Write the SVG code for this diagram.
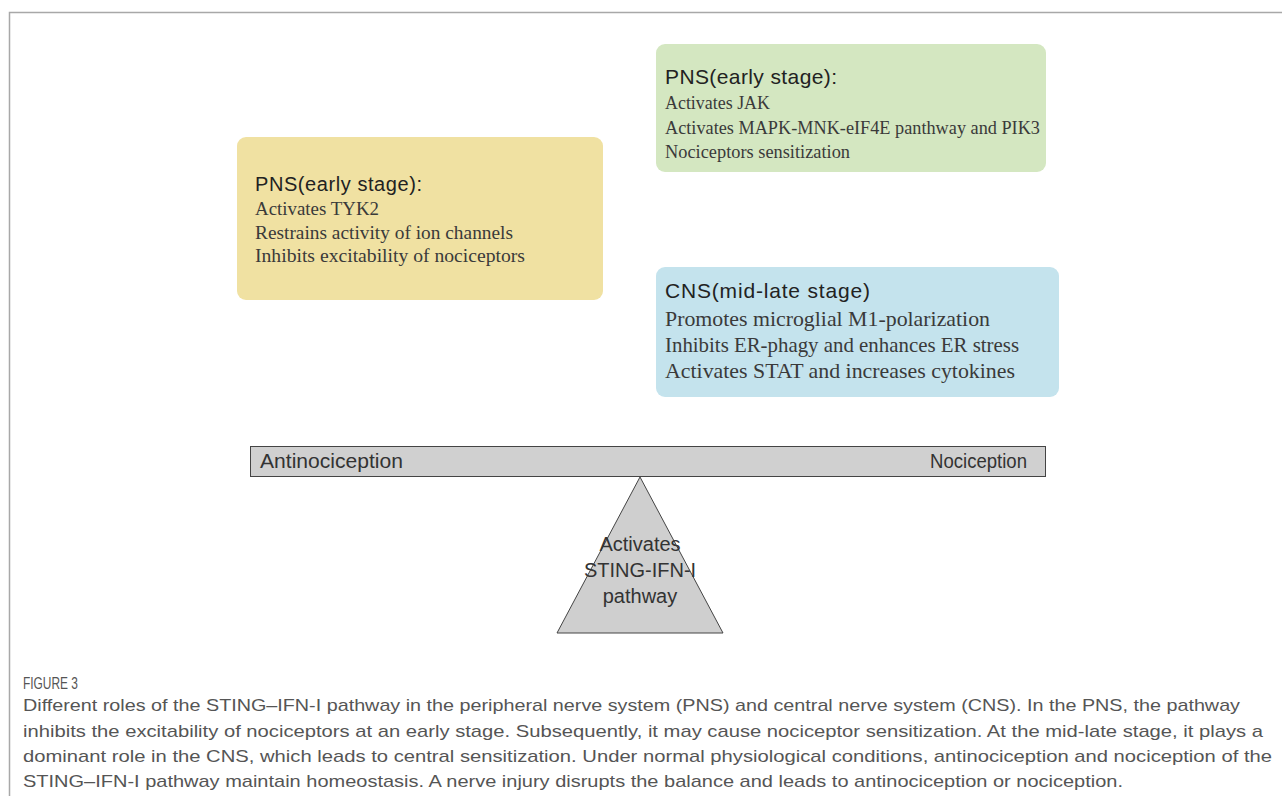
<svg xmlns="http://www.w3.org/2000/svg" width="1282" height="796" viewBox="0 0 1282 796">
<style>
.title{font-family:"Liberation Sans",Arial,sans-serif;fill:#222}
.body{font-family:"Liberation Serif","Times New Roman",serif;fill:#3a3a3a}
.lbl{font-family:"Liberation Sans",Arial,sans-serif;fill:#333;font-size:20px}
.cap{font-family:"Liberation Sans",Arial,sans-serif;fill:#555;font-size:17px}
</style>
<rect width="1282" height="796" fill="#fff"/>
<path d="M9.5 796 V12.5 H1282" fill="none" stroke="#a8a8a8" stroke-width="1.5"/>
<g id="pns-yellow">
<rect x="237" y="137" width="366" height="163" rx="9" fill="#f0e1a2"/>
<text class="title" x="255" y="191" font-size="20" textLength="167">PNS(early stage):</text>
<text class="body" x="255" y="215" font-size="19" textLength="124" lengthAdjust="spacingAndGlyphs">Activates TYK2</text>
<text class="body" x="255" y="239" font-size="19" textLength="258" lengthAdjust="spacingAndGlyphs">Restrains activity of ion channels</text>
<text class="body" x="255" y="262" font-size="19" textLength="270" lengthAdjust="spacingAndGlyphs">Inhibits excitability of nociceptors</text>
</g>
<g id="pns-green">
<rect x="656" y="44" width="390" height="128" rx="9" fill="#d4e7c1"/>
<text class="title" x="665" y="84" font-size="21" textLength="172">PNS(early stage):</text>
<text class="body" x="665" y="109" font-size="19" textLength="105" lengthAdjust="spacingAndGlyphs">Activates JAK</text>
<text class="body" x="665" y="134" font-size="19" textLength="375" lengthAdjust="spacingAndGlyphs">Activates MAPK-MNK-eIF4E panthway and PIK3</text>
<text class="body" x="665" y="158" font-size="19" textLength="185" lengthAdjust="spacingAndGlyphs">Nociceptors sensitization</text>
</g>
<g id="cns-blue">
<rect x="656" y="267" width="403" height="130" rx="9" fill="#c4e3ed"/>
<text class="title" x="665" y="298" font-size="21" textLength="205">CNS(mid-late stage)</text>
<text class="body" x="665" y="326" font-size="21" textLength="325" lengthAdjust="spacingAndGlyphs">Promotes microglial M1-polarization</text>
<text class="body" x="665" y="352" font-size="21" textLength="354" lengthAdjust="spacingAndGlyphs">Inhibits ER-phagy and enhances ER stress</text>
<text class="body" x="665" y="378" font-size="21" textLength="350" lengthAdjust="spacingAndGlyphs">Activates STAT and increases cytokines</text>
</g>
<g id="beam">
<rect x="250.5" y="446.5" width="795" height="30" fill="#d0d0d0" stroke="#444" stroke-width="1"/>
<text class="lbl" x="260" y="468" textLength="143" lengthAdjust="spacingAndGlyphs">Antinociception</text>
<text class="lbl" x="930" y="468" textLength="97" lengthAdjust="spacingAndGlyphs">Nociception</text>
</g>
<g id="fulcrum">
<polygon points="640,477 557,633 723,633" fill="#cfcfcf" stroke="#444" stroke-width="1"/>
<text class="lbl" x="640" y="551" text-anchor="middle">Activates</text>
<text class="lbl" x="640" y="577" text-anchor="middle">STING-IFN-I</text>
<text class="lbl" x="640" y="603" text-anchor="middle">pathway</text>
</g>
<g id="connectors"></g>
<g id="caption">
<text class="cap" x="23" y="689" font-size="14" textLength="55" lengthAdjust="spacingAndGlyphs">FIGURE 3</text>
<text class="cap" x="23" y="711" textLength="1217" lengthAdjust="spacingAndGlyphs">Different roles of the STING–IFN-I pathway in the peripheral nerve system (PNS) and central nerve system (CNS). In the PNS, the pathway</text>
<text class="cap" x="23" y="737" textLength="1240" lengthAdjust="spacingAndGlyphs">inhibits the excitability of nociceptors at an early stage. Subsequently, it may cause nociceptor sensitization. At the mid-late stage, it plays a</text>
<text class="cap" x="23" y="762" textLength="1249" lengthAdjust="spacingAndGlyphs">dominant role in the CNS, which leads to central sensitization. Under normal physiological conditions, antinociception and nociception of the</text>
<text class="cap" x="23" y="787" textLength="1100" lengthAdjust="spacingAndGlyphs">STING–IFN-I pathway maintain homeostasis. A nerve injury disrupts the balance and leads to antinociception or nociception.</text>
</g>
</svg>
